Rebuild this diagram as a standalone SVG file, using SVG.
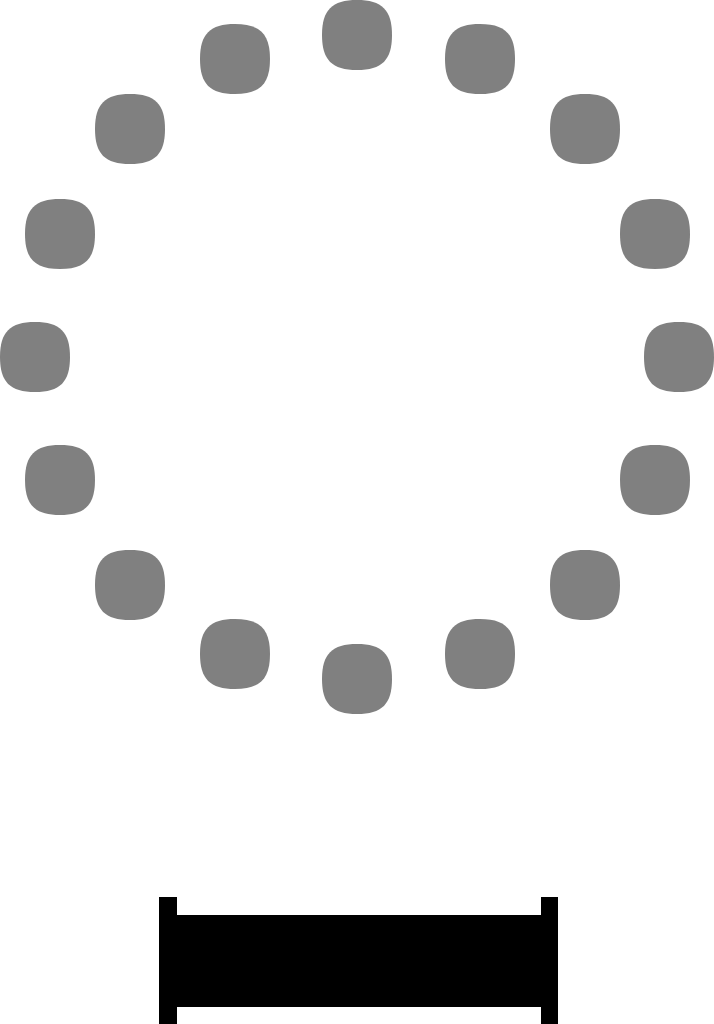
<svg xmlns="http://www.w3.org/2000/svg" xmlns:xlink="http://www.w3.org/1999/xlink" width="714" height="1024" viewBox="0 0 714 1024">
<style>
.seat{fill:#808080}
.table{fill:#000}
</style>
<defs>
<path id="s" class="seat" d="M -35,0 C -35,-25 -25,-35 0,-35 C 25,-35 35,-25 35,0 C 35,25 25,35 0,35 C -25,35 -35,25 -35,0 Z"/>
</defs>
<rect width="714" height="1024" fill="#fff"/>
<g id="seats">
<g id="seat1" transform="translate(357,35)"><use xlink:href="#s"/></g>
<g id="seat2" transform="translate(480,59)"><use xlink:href="#s"/></g>
<g id="seat3" transform="translate(585,129)"><use xlink:href="#s"/></g>
<g id="seat4" transform="translate(655,234)"><use xlink:href="#s"/></g>
<g id="seat5" transform="translate(679,357)"><use xlink:href="#s"/></g>
<g id="seat6" transform="translate(655,480)"><use xlink:href="#s"/></g>
<g id="seat7" transform="translate(585,585)"><use xlink:href="#s"/></g>
<g id="seat8" transform="translate(480,654)"><use xlink:href="#s"/></g>
<g id="seat9" transform="translate(357,679)"><use xlink:href="#s"/></g>
<g id="seat10" transform="translate(235,654)"><use xlink:href="#s"/></g>
<g id="seat11" transform="translate(130,585)"><use xlink:href="#s"/></g>
<g id="seat12" transform="translate(60,480)"><use xlink:href="#s"/></g>
<g id="seat13" transform="translate(35,357)"><use xlink:href="#s"/></g>
<g id="seat14" transform="translate(60,234)"><use xlink:href="#s"/></g>
<g id="seat15" transform="translate(130,129)"><use xlink:href="#s"/></g>
<g id="seat16" transform="translate(235,59)"><use xlink:href="#s"/></g>
</g>
<g id="table">
<path class="table" d="M 159,897 H 177 V 915 H 541 V 897 H 558 V 1024 H 541 V 1007 H 177 V 1024 H 159 Z"/>
</g>
<g id="connectors"/>
</svg>
